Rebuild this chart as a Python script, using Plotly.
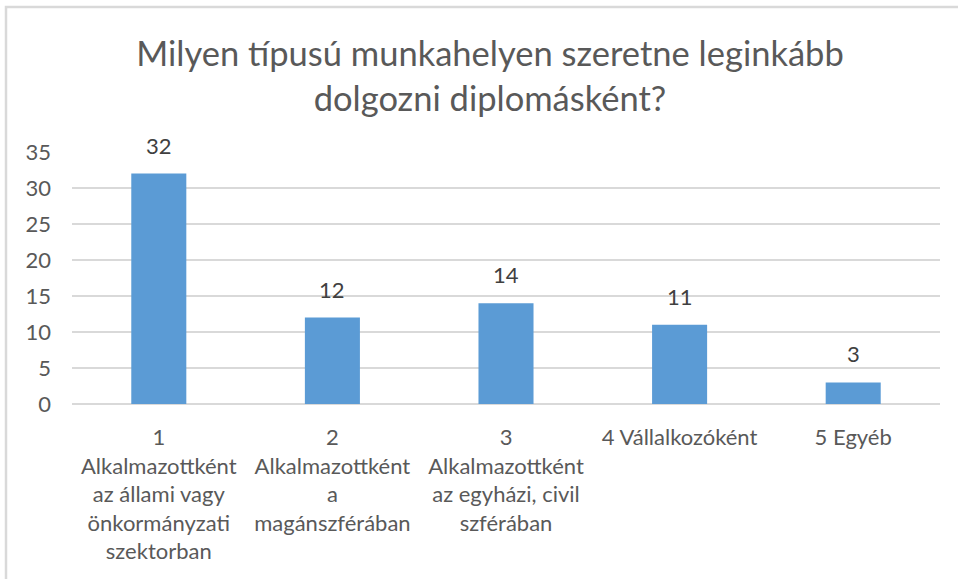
import plotly.graph_objects as go

categories = [
    "1<br>Alkalmazottként<br>az állami vagy<br>önkormányzati<br>szektorban",
    "2<br>Alkalmazottként<br>a<br>magánszférában",
    "3<br>Alkalmazottként<br>az egyházi, civil<br>szférában",
    "4 Vállalkozóként",
    "5 Egyéb",
]
values = [32, 12, 14, 11, 3]
y_ticks = [0, 5, 10, 15, 20, 25, 30, 35]
title_text = "Milyen típusú munkahelyen szeretne leginkább<br>dolgozni diplomásként?"

FONT = "Lato, 'Open Sans', sans-serif"
W, H = 958, 579
L, T = 72, 152
PW, PH = 868, 252
R = W - L - PW
B = H - T - PH

fig = go.Figure(
    go.Bar(
        x=categories,
        y=values,
        marker=dict(color="#5B9BD5", line=dict(width=0)),
        hoverinfo="skip",
    )
)

for c, v in zip(categories, values):
    fig.add_annotation(
        x=c, y=v, text=str(v), showarrow=False,
        yanchor="bottom", yshift=13,
        font=dict(family=FONT, size=22, color="#404040"),
    )

# outer chart border (top and left visible)
fig.add_shape(
    type="rect", xref="paper", yref="paper",
    x0=(6 - L) / PW, x1=(990 - L) / PW,
    y0=(T + PH - 640) / PH, y1=(T + PH - 7) / PH,
    line=dict(color="#D9D9D9", width=2.5), fillcolor="rgba(0,0,0,0)",
    layer="below",
)

fig.update_layout(
    width=W, height=H,
    margin=dict(l=L, r=R, t=T, b=B),
    paper_bgcolor="white", plot_bgcolor="white",
    bargap=0.683,
    showlegend=False,
    hovermode=False,
    font=dict(family=FONT, color="#595959"),
    title=dict(
        text=title_text,
        x=490 / W, xanchor="center",
        y=1 - 66 / H, yanchor="middle", yref="container",
        font=dict(family=FONT, size=34.5, color="#595959"),
    ),
)
fig.update_yaxes(
    range=[0, 35], tickvals=y_ticks, showgrid=True,
    gridcolor="#D9D9D9", gridwidth=2,
    zeroline=True, zerolinecolor="#D9D9D9", zerolinewidth=2,
    showline=False, ticks="",
    tickfont=dict(family=FONT, size=22, color="#595959"),
    ticklabelstandoff=20,
)
fig.update_xaxes(
    showline=False, ticks="", showgrid=False,
    tickfont=dict(family=FONT, size=22, color="#595959"),
    tickangle=0,
    ticklabelstandoff=18,
)

fig.write_html(
    "out.html",
    config={"displayModeBar": False},
    post_script="document.body.style.margin='0px';document.body.style.padding='0px';",
)
